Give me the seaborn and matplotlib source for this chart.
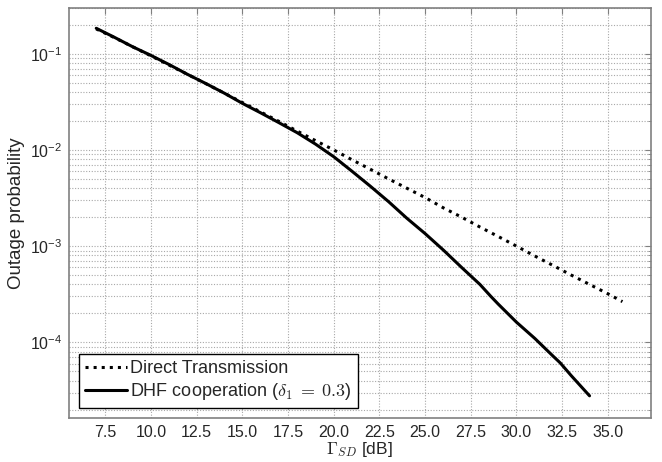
"""
Outage probability vs. SNR: direct transmission vs. DHF cooperation
"""

import numpy as np
import pandas as pd
import matplotlib
matplotlib.use('Agg')
import matplotlib.pyplot as plt
import matplotlib.ticker as mticker
import seaborn as sns

# Data
snr_direct = [7, 8, 9, 10, 11, 12, 13, 14, 15, 16, 17, 18, 19, 20, 21, 22, 23, 24, 25,
              26, 27, 28, 29, 30, 31, 32, 33, 34, 35, 35.8]
p_direct = [0.181, 0.147, 0.118, 0.095, 0.076, 0.061, 0.0489, 0.0390, 0.0311, 0.0248,
            0.0198, 0.0157, 0.0125, 0.0100, 0.0079, 0.0063, 0.0050, 0.0040, 0.0032,
            0.0025, 0.0020, 0.00158, 0.00126, 0.00100, 0.00079, 0.00063, 0.00050,
            0.00040, 0.00032, 0.000265]

snr_dhf = [7, 8, 9, 10, 11, 12, 13, 14, 15, 16, 17, 18, 19, 20, 21, 22, 23, 24, 25,
           26, 27, 28, 28.6, 29, 30, 31, 32, 32.4, 33, 34]
p_dhf = [0.184, 0.148, 0.118, 0.096, 0.077, 0.061, 0.049, 0.039, 0.0305, 0.0243,
         0.0192, 0.0151, 0.0115, 0.0085, 0.0060, 0.0042, 0.0029, 0.00195, 0.00135,
         0.00091, 0.00060, 0.00040, 0.00030, 0.00025, 0.000162, 0.000110, 7.2e-05,
         6.1e-05, 4.5e-05, 2.78e-05]

x_ticks = [7.5, 10.0, 12.5, 15.0, 17.5, 20.0, 22.5, 25.0, 27.5, 30.0, 32.5, 35.0]
y_ticks = [1e-4, 1e-3, 1e-2, 1e-1]

sns.set_style("white")
plt.rcParams['font.family'] = ['Liberation Sans', 'DejaVu Sans']
plt.rcParams['mathtext.fontset'] = 'cm'
plt.rcParams['font.size'] = 11

df_direct = pd.DataFrame({'snr': snr_direct, 'p': p_direct})
df_dhf = pd.DataFrame({'snr': snr_dhf, 'p': p_dhf})

fig = plt.figure(figsize=(6.62, 4.62), dpi=100)
ax = fig.add_axes([0.104, 0.095, 0.879, 0.888])

sns.lineplot(data=df_direct, x='snr', y='p', ax=ax, color='black', linewidth=2.2,
             linestyle=':', label='Direct Transmission')
sns.lineplot(data=df_dhf, x='snr', y='p', ax=ax, color='black', linewidth=2.2,
             linestyle='-', label=r'DHF cooperation ($\delta_1\;=\;0.3$)')

ax.set_yscale('log')
ax.set_xlim(5.5, 37.35)
ax.set_ylim(1.63e-5, 0.3)

ax.set_xticks(x_ticks)
ax.set_xticklabels([f'{t:.1f}' for t in x_ticks])
ax.set_yticks(y_ticks)
ax.yaxis.set_major_formatter(mticker.FuncFormatter(
    lambda v, pos: r'$\mathregular{10^{%d}}$' % int(round(np.log10(v)))))
ax.yaxis.set_minor_locator(mticker.LogLocator(base=10, subs=np.arange(2, 10)))
ax.yaxis.set_minor_formatter(mticker.NullFormatter())

ax.tick_params(axis='both', which='both', direction='in', color='#808080',
               top=True, right=True, labelsize=11.5, pad=5)
ax.tick_params(axis='both', which='major', length=4)
ax.tick_params(axis='y', which='minor', length=2.5)

ax.grid(True, which='major', axis='both', color='#a8a8a8', linestyle=(0, (1, 1.5)), linewidth=0.8)
ax.grid(True, which='minor', axis='y', color='#a8a8a8', linestyle=(0, (1, 1.5)), linewidth=0.8)

for s in ax.spines.values():
    s.set_color('#808080')
    s.set_linewidth(1.2)

ax.set_xlabel(r'$\Gamma_{SD}$ [dB]', fontsize=12.5, labelpad=0)
ax.set_ylabel('Outage probability', fontsize=13.5, labelpad=3)

leg = ax.legend(loc='lower left', fancybox=False, edgecolor='black', framealpha=1,
                fontsize=13, handlelength=2.3, handletextpad=0.2, borderaxespad=0.55,
                borderpad=0.35, labelspacing=0.2)
leg.get_frame().set_linewidth(1.0)

plt.savefig('out.png', dpi=100)
plt.close()
